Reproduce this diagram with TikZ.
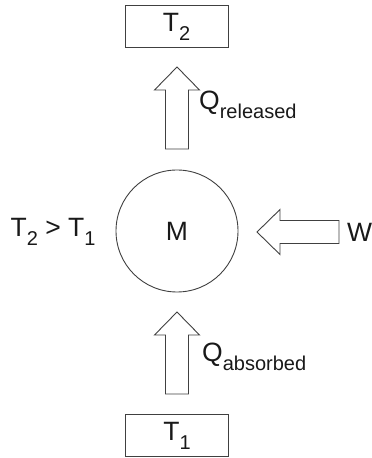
\documentclass[tikz,border=0pt]{standalone}
\usepackage{fontspec}
\setmainfont{Liberation Sans}
\newcommand\lowsub[1]{\raisebox{-9pt}{\fontsize{20}{24}\selectfont #1}}
\begin{document}
\begin{tikzpicture}[x=1pt,y=1pt,
  every node/.style={font=\fontsize{26.5}{31}\selectfont, text=black!90, inner sep=0pt},
  outline/.style={draw=black!75, line width=0.9pt},
  reservoir/.style={outline, minimum width=103pt, minimum height=42pt},
  body/.style={outline, circle, minimum size=122pt},
  fatarrow/.pic={
    \draw[outline, fill=white, line join=miter]
      (0,0) -- (22.5,-23) -- (11.5,-23) -- (11.5,-82) -- (-11.5,-82)
      -- (-11.5,-23) -- (-22.5,-23) -- cycle;
  }]
  \useasboundingbox (0,0) rectangle (372,458);

  % hot and cold reservoirs
  \node[reservoir] (hot)  at (176.5,431.5) {T\lowsub{2}};
  \node[reservoir] (cold) at (177,22.5)    {T\lowsub{1}};

  % the machine
  \node[body] (machine) at (177,227) {M};

  % heat and work flows
  \coordinate (uptip)   at (177,391);
  \coordinate (lowtip)  at (177,146);
  \coordinate (worktip) at (257,226);
  \pic at (uptip) {fatarrow};
  \pic at (lowtip) {fatarrow};
  \pic[rotate=90] at (worktip) {fatarrow};

  % labels
  \node[anchor=base west] (qrel) at (199,348) {Q\lowsub{released}};
  \node[anchor=base west] (qabs) at (202,96)  {Q\lowsub{absorbed}};
  \node[anchor=west] (work) at (347,226) {W};
  \node (cond) at (53,226) {T\lowsub{2} > T\lowsub{1}};
\end{tikzpicture}
\end{document}
